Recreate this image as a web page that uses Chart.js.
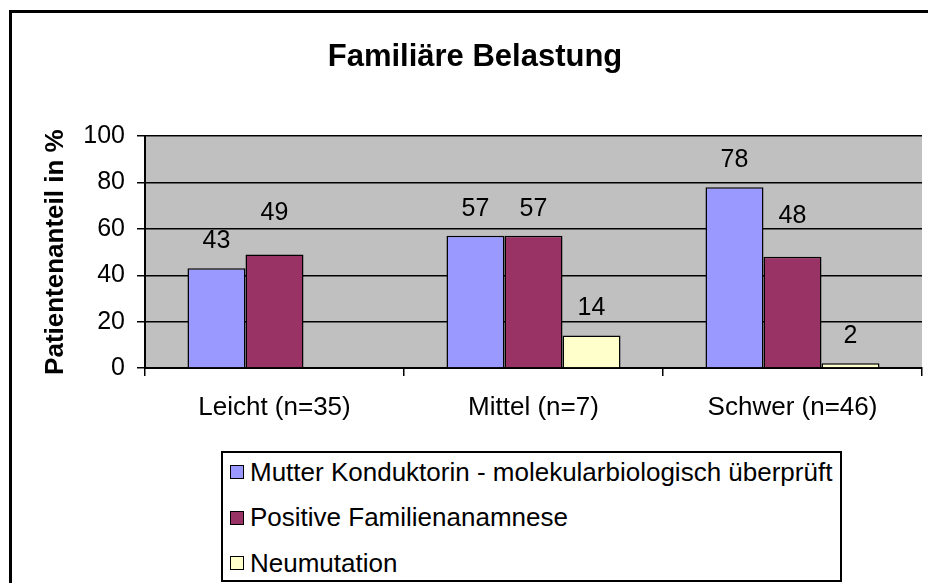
<!DOCTYPE html>
<html>
<head>
  <meta charset="utf-8">
  <title>Familiäre Belastung</title>
  <script src="https://cdn.jsdelivr.net/npm/chart.js@4/dist/chart.umd.min.js"></script>
  <style>
    html, body {
      margin: 0; padding: 0; overflow: hidden;
      background-color: #fff;
      font-family: "Liberation Sans", Arial, sans-serif;
    }
    #wrap { position: relative; width: 928px; height: 583px; overflow: hidden; }
    #frame {
      position: absolute; left: 9px; top: 10px; width: 1000px; height: 700px;
      border-left: 3px solid #000; border-top: 3px solid #000;
    }
    #chartBox { position: absolute; left: 0; top: 0; width: 928px; height: 583px; }
    #legend {
      position: absolute; left: 221px; top: 451px;
      width: 621px; height: 131px;
      border: 2px solid #000; box-sizing: border-box; background: #fff;
    }
    .item {
      position: absolute; left: 7px; height: 28px;
      display: flex; align-items: center;
      font-size: 26px; white-space: nowrap; color: #000;
    }
    .swatch {
      width: 14px; height: 14px; margin-right: 6px;
      border: 1.5px solid #000; box-sizing: border-box;
    }
  </style>
</head>
<body>
  <div id="wrap">
    <div id="frame"></div>
    <div id="chartBox"><canvas id="myChart"></canvas></div>
    <div id="legend"></div>
  </div>

  <script>
    const categories = ['Leicht (n=35)', 'Mittel (n=7)', 'Schwer (n=46)'];
    const seriesNames = [
      'Mutter Konduktorin - molekularbiologisch überprüft',
      'Positive Familienanamnese',
      'Neumutation'
    ];
    const mutterKonduktorin = [43, 57, 78];
    const positiveFamilienanamnese = [49, 57, 48];
    const neumutation = [null, 14, 2];
    const yTicks = [0, 20, 40, 60, 80, 100];
    const seriesColors = ['#9999FF', '#993366', '#FFFFCC'];

    const FONT = '"Liberation Sans", Arial, sans-serif';
    Chart.defaults.font.family = FONT;
    Chart.defaults.color = '#000';

    // grey plot area like the old Excel charts
    const plotBackground = {
      id: 'plotBackground',
      beforeDraw(chart) {
        const { ctx, chartArea: a } = chart;
        ctx.save();
        ctx.fillStyle = '#C0C0C0';
        ctx.fillRect(a.left, a.top, a.right - a.left, a.bottom - a.top);
        ctx.restore();
      }
    };

    // value labels above the bars
    const valueLabels = {
      id: 'valueLabels',
      afterDatasetsDraw(chart, args, opts) {
        const ctx = chart.ctx;
        ctx.save();
        ctx.font = '25px ' + FONT;
        ctx.fillStyle = '#000';
        ctx.textAlign = 'center';
        ctx.textBaseline = 'middle';
        chart.data.datasets.forEach((ds, i) => {
          const meta = chart.getDatasetMeta(i);
          meta.data.forEach((bar, j) => {
            const v = ds.data[j];
            if (v == null) return;
            const lift = (opts.lift[i] && opts.lift[i][j]) || 0;
            ctx.fillText(String(v), bar.x, bar.y - opts.offset - lift);
          });
        });
        ctx.restore();
      }
    };

    const seriesData = [mutterKonduktorin, positiveFamilienanamnese, neumutation];

    const chart = new Chart(document.getElementById('myChart'), {
      type: 'bar',
      data: {
        labels: categories,
        datasets: seriesNames.map((name, i) => ({
          label: name,
          data: seriesData[i],
          backgroundColor: seriesColors[i],
          borderColor: '#000',
          borderWidth: 1.5,
          categoryPercentage: 0.672,
          barPercentage: 1.0
        }))
      },
      options: {
        responsive: true,
        maintainAspectRatio: false,
        animation: false,
        layout: { padding: { left: 28, right: 6, top: 0, bottom: 150 } },
        scales: {
          x: {
            grid: {
              offset: true, drawOnChartArea: false, drawTicks: true,
              tickLength: 8, color: '#000', lineWidth: 1.5
            },
            border: { display: true, color: '#000', width: 2 },
            ticks: { font: { size: 26 }, color: '#000', padding: 16, maxRotation: 0, autoSkip: false },
            afterFit: (s) => { s.height = 65; }
          },
          y: {
            min: 0, max: 100,
            afterBuildTicks: (s) => { s.ticks = yTicks.map(v => ({ value: v })); },
            grid: { color: '#000', lineWidth: 1.5, drawTicks: true, tickLength: 8 },
            border: { display: true, color: '#000', width: 2 },
            ticks: { font: { size: 25 }, color: '#000', padding: 12 },
            title: {
              display: true, text: 'Patientenanteil in %', color: '#000',
              font: { size: 26, weight: 'bold' }, padding: { top: 12, bottom: 0 }
            },
            afterFit: (s) => { s.width = 117; }
          }
        },
        plugins: {
          legend: { display: false },
          tooltip: { enabled: false },
          title: {
            display: true, text: 'Familiäre Belastung', color: '#000',
            font: { size: 31, weight: 'bold' },
            padding: { top: 39, bottom: 60 }
          },
          valueLabels: {
            offset: 27,
            lift: [[0, 0, 0], [14, 0, 14], [0, 0, 0]]
          }
        }
      },
      plugins: [plotBackground, valueLabels]
    });

    // boxed legend below the chart
    const legendEl = document.getElementById('legend');
    chart.data.datasets.forEach((ds, i) => {
      const item = document.createElement('div');
      item.className = 'item';
      item.style.top = (5 + i * 45.5) + 'px';
      const sw = document.createElement('span');
      sw.className = 'swatch';
      sw.style.backgroundColor = ds.backgroundColor;
      const txt = document.createElement('span');
      txt.textContent = ds.label;
      item.appendChild(sw);
      item.appendChild(txt);
      legendEl.appendChild(item);
    });
  </script>
</body>
</html>
